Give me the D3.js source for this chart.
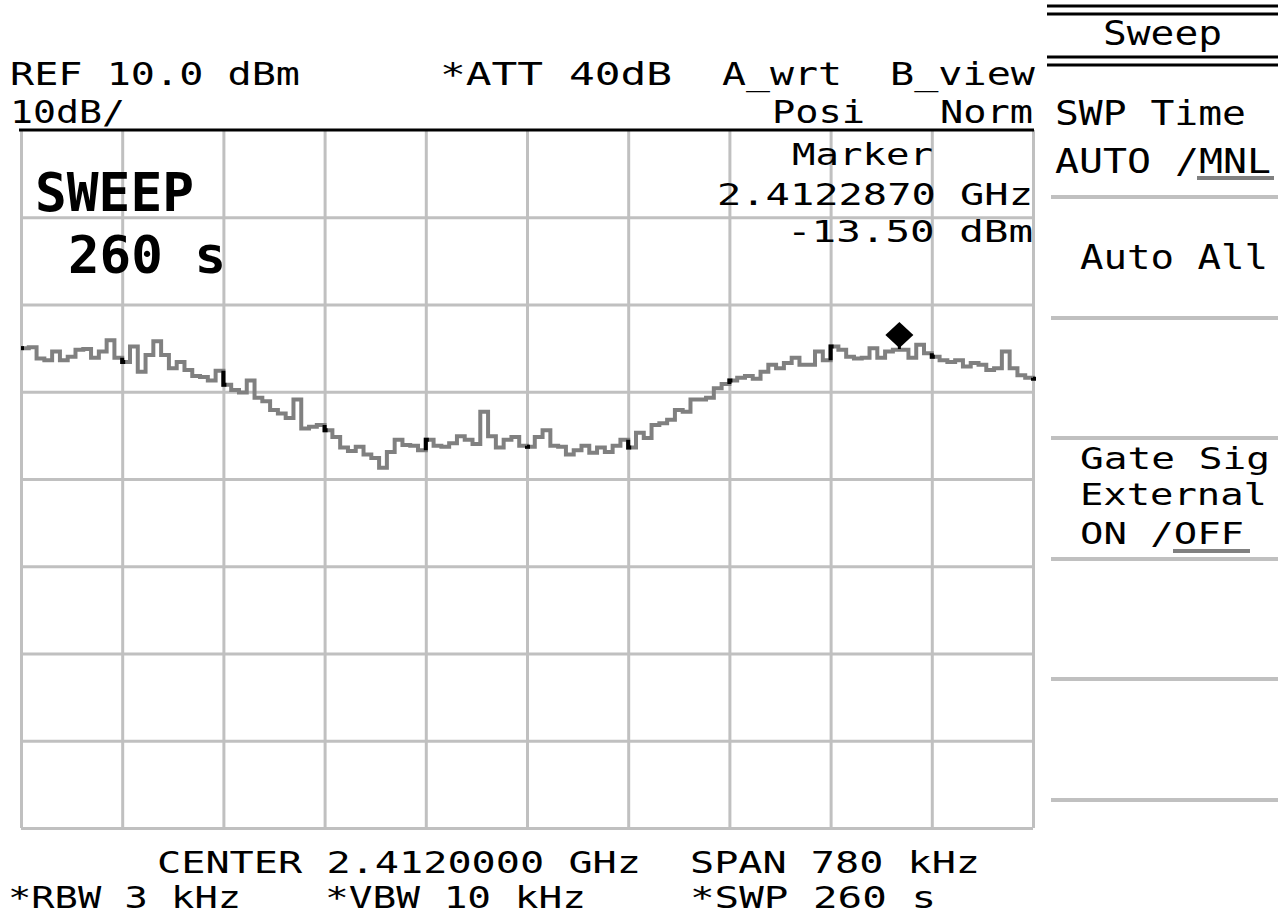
<!DOCTYPE html>
<html>
<head>
<meta charset="utf-8">
<script src="https://cdn.jsdelivr.net/npm/d3@7"></script>
<style>
  html, body { margin: 0; padding: 0; background: #fff; }
  svg { display: block; }
  text { font-family: "DejaVu Sans Mono", "Liberation Mono", monospace; fill: #000; }
</style>
</head>
<body>
<svg id="chart" width="1285" height="917"></svg>
<script>
// ---------------- data ----------------
const centerGHz = 2.412;
const spanKHz = 780;
const refLevel = 10;          // dBm (top of screen)
const dbPerDiv = 10;
const yTicks = [10, 0, -10, -20, -30, -40, -50, -60, -70];          // dBm grid lines
const xTicks = [-390, -312, -234, -156, -78, 0, 78, 156, 234, 312, 390]; // kHz offsets from centre
// measured trace, dBm, one value per sweep point (131 points across the span)
const traceDbm = [
  -15.0, -14.9, -16.2, -16.4, -15.4, -16.4, -16.0, -15.2, -15.1, -16.1,
  -15.4, -14.1, -16.1, -16.6, -14.8, -17.7, -15.8, -14.2, -15.8, -17.3,
  -16.6, -17.5, -18.2, -18.3, -18.7, -17.6, -19.2, -19.8, -20.1, -18.7,
  -20.7, -21.1, -22.1, -22.5, -23.0, -20.9, -24.2, -24.0, -23.8, -24.4,
  -25.2, -26.4, -26.8, -26.3, -27.2, -27.6, -28.7, -26.9, -25.5, -26.1,
  -26.2, -26.7, -25.5, -26.2, -26.3, -25.9, -25.1, -25.5, -26.0, -22.3,
  -25.1, -26.4, -25.5, -25.2, -26.2, -26.3, -25.2, -24.4, -26.2, -26.3,
  -27.2, -26.7, -26.2, -27.0, -26.4, -26.9, -26.2, -25.5, -26.4, -24.7,
  -25.3, -23.8, -23.6, -23.2, -22.1, -22.3, -20.9, -20.9, -20.7, -19.6,
  -19.1, -18.7, -18.4, -18.2, -18.5, -17.7, -16.9, -17.3, -16.7, -16.1,
  -16.9, -16.9, -15.4, -16.4, -14.8, -15.2, -16.0, -16.2, -16.1, -15.0,
  -16.1, -15.4, -15.2, -15.2, -16.1, -14.6, -15.6, -16.0, -16.4, -16.6,
  -16.4, -17.1, -16.7, -16.9, -17.5, -17.3, -15.4, -17.3, -18.1, -18.4,
  -18.5
];
const markerKHz = 287;        // 2.4122870 GHz - centre
const markerDbm = -13.50;

// text blocks
const headerTop = ["REF 10.0 dBm", "*ATT 40dB", "A_wrt", "B_view"];
const headerSub = ["10dB/", "Posi", "Norm"];
const markerLines = ["Marker", "2.4122870 GHz", "-13.50 dBm"];
const sweepLabel = ["SWEEP", "260 s"];
const footer1 = ["CENTER 2.4120000 GHz", "SPAN 780 kHz"];
const footer2 = ["*RBW 3 kHz", "*VBW 10 kHz", "*SWP 260 s"];
const menuTitle = "Sweep";
const menuItems = ["SWP Time", "AUTO /MNL", "Auto All", "Gate Sig", "External", "ON /OFF"];

// ---------------- layout ----------------
const svg = d3.select("#chart");
const plot = { left: 21, right: 1033, top: 130, bottom: 828 };

const x = d3.scaleLinear().domain([-spanKHz / 2, spanKHz / 2]).range([plot.left, plot.right]);
const y = d3.scaleLinear().domain([refLevel - 8 * dbPerDiv, refLevel]).range([plot.bottom, plot.top]);
const sweepIdx = d3.scaleLinear().domain([0, traceDbm.length - 1]).range([-spanKHz / 2, spanKHz / 2]);

// grid
const grid = svg.append("g");
grid.append("g")
  .attr("transform", `translate(0,${plot.bottom})`)
  .call(d3.axisBottom(x).tickValues(xTicks).tickSize(-(plot.bottom - plot.top)).tickFormat(""))
  .call(g => g.select(".domain").remove())
  .call(g => g.selectAll("line").attr("stroke", "#c0c0c0").attr("stroke-width", 3));
grid.append("g")
  .attr("transform", `translate(${plot.left},0)`)
  .call(d3.axisLeft(y).tickValues(yTicks.slice(1)).tickSize(-(plot.right - plot.left)).tickFormat(""))
  .call(g => g.select(".domain").remove())
  .call(g => g.selectAll("line").attr("stroke", "#c0c0c0").attr("stroke-width", 3));

// top black rule
svg.append("line").attr("x1", 19).attr("x2", plot.right + 1).attr("y1", y(refLevel)).attr("y2", y(refLevel))
  .attr("stroke", "#000").attr("stroke-width", 3);

// trace
const pts = traceDbm.map((v, i) => [sweepIdx(i), v]);
const line = d3.line().x(d => x(d[0])).y(d => y(d[1])).curve(d3.curveStepAfter);
svg.append("path").datum(pts).attr("d", line)
  .attr("fill", "none").attr("stroke", "#808080").attr("stroke-width", 4).attr("stroke-linejoin", "miter");

// black segments where trace crosses vertical divisions
const divIdx = xTicks.map(k => Math.round(sweepIdx.invert(k)));
divIdx.forEach(i => {
  const prev = i > 0 ? traceDbm[i - 1] : traceDbm[i];
  svg.append("path")
    .attr("d", `M${x(sweepIdx(i))},${y(prev)}V${y(traceDbm[i])}h3`)
    .attr("fill", "none").attr("stroke", "#000").attr("stroke-width", 4);
});

// marker diamond
const mx = x(markerKHz), my = y(markerDbm);
svg.append("path")
  .attr("d", `M${mx},${my - 13}L${mx + 14},${my}L${mx},${my + 13}L${mx - 14},${my}Z`)
  .attr("fill", "#000");
svg.append("rect").attr("x", mx - 1.5).attr("y", my + 8).attr("width", 3).attr("height", 6).attr("fill", "#000");

// ---------------- texts ----------------
function txt(str, x0, x1, base, size, weight) {
  svg.append("text")
    .attr("x", x0).attr("y", base)
    .attr("font-size", size)
    .attr("font-weight", weight || "normal")
    .attr("textLength", x1 - x0)
    .attr("lengthAdjust", "spacingAndGlyphs")
    .text(str);
}
// header
txt(headerTop[0], 10, 300, 85, 32);
txt(headerTop[1], 440, 672, 85, 32);
txt(headerTop[2], 722, 842, 85, 32);
txt(headerTop[3], 890, 1035, 85, 32);
txt(headerSub[0], 10, 125, 123, 32);
txt(headerSub[1], 772, 865, 123, 32);
txt(headerSub[2], 940, 1033, 123, 32);
// marker readout
txt(markerLines[0], 792, 933, 165, 31);
txt(markerLines[1], 717, 1033, 205, 31);
txt(markerLines[2], 787, 1033, 242, 31);
// sweep
txt(sweepLabel[0], 35, 194, 211, 53, "bold");
txt(sweepLabel[1], 68, 226, 273, 52, "bold");
// footer
txt(footer1[0], 157, 641, 873, 30);
txt(footer1[1], 690, 980, 873, 30);
txt(footer2[0], 8, 241, 908, 30);
txt(footer2[1], 325, 586, 908, 30);
txt(footer2[2], 690, 936, 908, 30);

// ---------------- soft-key menu ----------------
const menu = svg.append("g");
[6, 14, 57, 65].forEach(yy => menu.append("line").attr("x1", 1047).attr("x2", 1278)
  .attr("y1", yy).attr("y2", yy).attr("stroke", "#000").attr("stroke-width", 3));
[197, 318, 438, 559, 679, 800].forEach(yy => menu.append("line").attr("x1", 1051).attr("x2", 1278)
  .attr("y1", yy).attr("y2", yy).attr("stroke", "#c0c0c0").attr("stroke-width", 4));
txt(menuTitle, 1103, 1222, 45, 33);
txt(menuItems[0], 1055, 1246, 125, 34);
txt(menuItems[1], 1055, 1271, 173, 34);
txt(menuItems[2], 1080, 1268, 269, 34);
txt(menuItems[3], 1080, 1270, 469, 31);
txt(menuItems[4], 1080, 1267, 505, 31);
txt(menuItems[5], 1080, 1244, 544, 31);
menu.append("line").attr("x1", 1197).attr("x2", 1274).attr("y1", 178).attr("y2", 178)
  .attr("stroke", "#808080").attr("stroke-width", 4);
menu.append("line").attr("x1", 1173).attr("x2", 1250).attr("y1", 551).attr("y2", 551)
  .attr("stroke", "#808080").attr("stroke-width", 4);
</script>
</body>
</html>
